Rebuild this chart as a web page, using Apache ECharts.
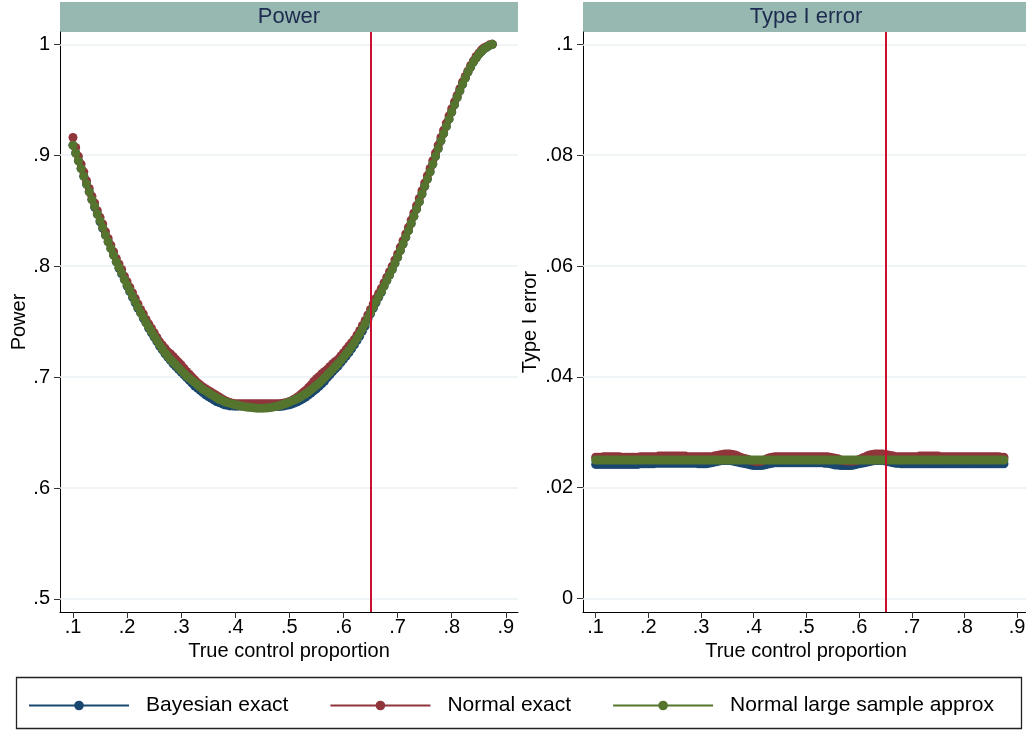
<!DOCTYPE html>
<html><head><meta charset="utf-8">
<script src="https://cdn.jsdelivr.net/npm/echarts@6/dist/echarts.min.js"></script>
<style>html,body{margin:0;padding:0;background:#fff}#c{width:1026px;height:731px}</style>
</head><body><div id="c"></div>
<script>
// ---------------- DATA ----------------
const xs = [
0.100,0.105,0.110,0.115,0.120,0.125,0.130,0.135,0.140,0.145,0.150,0.155,0.160,0.165,0.170,0.175,0.180,0.185,0.190,0.195,
0.200,0.205,0.210,0.215,0.220,0.225,0.230,0.235,0.240,0.245,0.250,0.255,0.260,0.265,0.270,0.275,0.280,0.285,0.290,0.295,
0.300,0.305,0.310,0.315,0.320,0.325,0.330,0.335,0.340,0.345,0.350,0.355,0.360,0.365,0.370,0.375,0.380,0.385,0.390,0.395,
0.400,0.405,0.410,0.415,0.420,0.425,0.430,0.435,0.440,0.445,0.450,0.455,0.460,0.465,0.470,0.475,0.480,0.485,0.490,0.495,
0.500,0.505,0.510,0.515,0.520,0.525,0.530,0.535,0.540,0.545,0.550,0.555,0.560,0.565,0.570,0.575,0.580,0.585,0.590,0.595,
0.600,0.605,0.610,0.615,0.620,0.625,0.630,0.635,0.640,0.645,0.650,0.655,0.660,0.665,0.670,0.675,0.680,0.685,0.690,0.695,
0.700,0.705,0.710,0.715,0.720,0.725,0.730,0.735,0.740,0.745,0.750,0.755,0.760,0.765,0.770,0.775,0.780,0.785,0.790,0.795,
0.800,0.805,0.810,0.815,0.820,0.825,0.830,0.835,0.840,0.845,0.850,0.855,0.860,0.865,0.870,0.875];

const seriesNames = ['Bayesian exact','Normal exact','Normal large sample approx'];

const powerBayes = [
0.909,0.902,0.895,0.888,0.881,0.874,0.867,0.860,0.853,0.847,0.840,0.834,0.828,0.822,0.816,0.810,0.804,0.798,0.793,0.788,
0.782,0.777,0.772,0.767,0.762,0.758,0.753,0.749,0.744,0.740,0.736,0.732,0.728,0.7245,0.721,0.718,0.715,0.712,0.7095,0.707,
0.7045,0.702,0.6995,0.697,0.6945,0.692,0.690,0.688,0.686,0.684,0.6825,0.681,0.6795,0.678,0.677,0.676,0.675,0.6745,0.674,0.674,
0.6738,0.6738,0.674,0.674,0.6742,0.6744,0.6745,0.6745,0.6745,0.6745,0.6745,0.6744,0.6742,0.674,0.6738,0.6736,0.6735,0.6737,0.674,0.6745,
0.675,0.6758,0.6767,0.6778,0.679,0.6805,0.682,0.6837,0.6855,0.6875,0.6895,0.6917,0.694,0.6965,0.6995,0.702,0.705,0.7075,0.710,0.713,
0.716,0.719,0.722,0.7255,0.729,0.733,0.737,0.7415,0.746,0.752,0.757,0.762,0.767,0.772,0.7765,0.782,0.787,0.792,0.797,0.8025,
0.808,0.814,0.820,0.826,0.832,0.8385,0.845,0.8515,0.858,0.865,0.872,0.8785,0.885,0.892,0.899,0.906,0.913,0.9195,0.926,0.9325,
0.939,0.9455,0.952,0.958,0.964,0.9695,0.975,0.9795,0.984,0.9875,0.991,0.9935,0.996,0.9975,0.999,1.000];

const powerNormal = [
0.916,0.907,0.899,0.892,0.885,0.877,0.870,0.863,0.857,0.850,0.844,0.838,0.831,0.825,0.819,0.813,0.807,0.802,0.797,0.791,
0.786,0.781,0.776,0.771,0.766,0.761,0.757,0.752,0.748,0.744,0.740,0.736,0.732,0.729,0.726,0.723,0.721,0.7185,0.716,0.7135,
0.711,0.708,0.705,0.7025,0.700,0.6975,0.695,0.693,0.691,0.6895,0.688,0.6865,0.685,0.6835,0.682,0.6805,0.679,0.678,0.677,0.6765,
0.676,0.676,0.676,0.676,0.676,0.676,0.676,0.676,0.676,0.676,0.676,0.676,0.676,0.676,0.676,0.676,0.676,0.6762,0.6766,0.677,
0.678,0.679,0.6805,0.682,0.684,0.686,0.688,0.6905,0.693,0.696,0.6985,0.7005,0.703,0.705,0.707,0.7095,0.712,0.714,0.716,0.719,
0.722,0.725,0.728,0.731,0.734,0.738,0.742,0.7465,0.751,0.756,0.761,0.766,0.771,0.7755,0.780,0.785,0.790,0.795,0.800,0.8055,
0.811,0.817,0.823,0.829,0.835,0.8415,0.848,0.8545,0.861,0.868,0.875,0.8815,0.888,0.895,0.902,0.909,0.916,0.9225,0.929,0.9355,
0.942,0.948,0.954,0.960,0.966,0.971,0.976,0.981,0.985,0.989,0.992,0.995,0.997,0.998,0.9995,1.000];

const powerLarge = [
0.909,0.902,0.895,0.888,0.881,0.874,0.867,0.860,0.854,0.847,0.841,0.835,0.828,0.822,0.816,0.810,0.804,0.799,0.794,0.788,
0.783,0.778,0.773,0.768,0.763,0.758,0.754,0.749,0.745,0.741,0.737,0.733,0.729,0.7255,0.722,0.719,0.716,0.7135,0.711,0.7085,
0.706,0.7035,0.701,0.699,0.697,0.695,0.693,0.691,0.689,0.6875,0.686,0.6845,0.683,0.6815,0.680,0.679,0.678,0.677,0.6765,0.6757,
0.675,0.6745,0.674,0.6735,0.673,0.6727,0.6725,0.6722,0.672,0.672,0.672,0.6721,0.6722,0.6726,0.673,0.6735,0.674,0.6748,0.6757,0.6766,
0.6775,0.6785,0.6795,0.6807,0.682,0.6835,0.685,0.6867,0.6885,0.6905,0.6925,0.6947,0.697,0.6995,0.702,0.7045,0.707,0.7095,0.712,0.715,
0.718,0.721,0.724,0.7275,0.731,0.735,0.739,0.7435,0.748,0.753,0.758,0.763,0.768,0.7725,0.777,0.782,0.787,0.792,0.797,0.8025,
0.808,0.814,0.820,0.826,0.832,0.8385,0.845,0.8515,0.858,0.865,0.872,0.8785,0.885,0.892,0.899,0.906,0.913,0.9195,0.926,0.9325,
0.939,0.9455,0.952,0.958,0.964,0.9695,0.975,0.9795,0.984,0.9875,0.991,0.9935,0.996,0.9975,0.999,1.000];

const t1Bayes = [
0.0242,0.0242,0.0242,0.0242,0.0242,0.0242,0.0242,0.0242,0.0242,0.0242,0.0242,0.0242,0.0242,0.0242,0.0242,0.0242,0.0242,0.0243,0.0243,0.0243,
0.0243,0.0243,0.0243,0.0244,0.0244,0.0244,0.0244,0.0244,0.0244,0.0244,0.0244,0.0244,0.0244,0.0244,0.0244,0.0244,0.0244,0.0244,0.0244,0.0243,
0.0243,0.0243,0.0243,0.0244,0.0245,0.0246,0.0247,0.0248,0.0249,0.0249,0.0249,0.0249,0.0248,0.0247,0.0246,0.0245,0.0244,0.0243,0.0242,0.0241,
0.0240,0.0240,0.0240,0.0240,0.0241,0.0242,0.0243,0.0244,0.0245,0.0245,0.0245,0.0245,0.0245,0.0245,0.0245,0.0245,0.0245,0.0245,0.0245,0.0245,
0.0245,0.0245,0.0245,0.0245,0.0245,0.0245,0.0245,0.0244,0.0244,0.0243,0.0242,0.0241,0.0241,0.0240,0.0240,0.0240,0.0240,0.0240,0.0241,0.0242,
0.0243,0.0244,0.0245,0.0246,0.0247,0.0248,0.0249,0.0249,0.0249,0.0249,0.0248,0.0247,0.0246,0.0245,0.0244,0.0244,0.0243,0.0243,0.0243,0.0243,
0.0243,0.0243,0.0243,0.0243,0.0243,0.0243,0.0243,0.0243,0.0243,0.0243,0.0243,0.0243,0.0243,0.0243,0.0243,0.0243,0.0243,0.0243,0.0243,0.0243,
0.0243,0.0243,0.0243,0.0243,0.0243,0.0243,0.0243,0.0243,0.0243,0.0243,0.0243,0.0243,0.0243,0.0243,0.0243,0.0243];

const t1Normal = [
0.0255,0.0255,0.0255,0.0256,0.0256,0.0256,0.0256,0.0256,0.0256,0.0256,0.0255,0.0255,0.0255,0.0255,0.0255,0.0255,0.0255,0.0256,0.0256,0.0256,
0.0256,0.0256,0.0256,0.0256,0.0257,0.0257,0.0257,0.0257,0.0257,0.0257,0.0257,0.0257,0.0257,0.0257,0.0257,0.0256,0.0256,0.0256,0.0256,0.0256,
0.0256,0.0256,0.0256,0.0256,0.0256,0.0257,0.0258,0.0259,0.0260,0.0261,0.0261,0.0261,0.0260,0.0259,0.0257,0.0255,0.0253,0.0252,0.0251,0.0249,
0.0248,0.0247,0.0247,0.0248,0.0250,0.0252,0.0254,0.0255,0.0256,0.0256,0.0256,0.0256,0.0256,0.0256,0.0256,0.0256,0.0256,0.0256,0.0256,0.0256,
0.0256,0.0256,0.0256,0.0256,0.0256,0.0256,0.0256,0.0256,0.0256,0.0255,0.0254,0.0253,0.0252,0.0250,0.0249,0.0248,0.0248,0.0248,0.0248,0.0249,
0.0251,0.0253,0.0255,0.0257,0.0259,0.0260,0.0261,0.0261,0.0261,0.0261,0.0260,0.0259,0.0258,0.0257,0.0256,0.0256,0.0256,0.0256,0.0256,0.0256,
0.0256,0.0256,0.0256,0.0257,0.0257,0.0257,0.0257,0.0257,0.0257,0.0257,0.0257,0.0256,0.0256,0.0256,0.0256,0.0256,0.0256,0.0256,0.0256,0.0256,
0.0256,0.0256,0.0256,0.0256,0.0256,0.0256,0.0256,0.0256,0.0256,0.0256,0.0256,0.0256,0.0256,0.0256,0.0255,0.0255];

const t1Large = [
0.025,0.025,0.025,0.025,0.025,0.025,0.025,0.025,0.025,0.025,0.025,0.025,0.025,0.025,0.025,0.025,0.025,0.025,0.025,0.025,
0.025,0.025,0.025,0.025,0.025,0.025,0.025,0.025,0.025,0.025,0.025,0.025,0.025,0.025,0.025,0.025,0.025,0.025,0.025,0.025,
0.025,0.025,0.025,0.025,0.025,0.025,0.025,0.025,0.025,0.025,0.025,0.025,0.025,0.025,0.025,0.025,0.025,0.025,0.025,0.025,
0.025,0.025,0.025,0.025,0.025,0.025,0.025,0.025,0.025,0.025,0.025,0.025,0.025,0.025,0.025,0.025,0.025,0.025,0.025,0.025,
0.025,0.025,0.025,0.025,0.025,0.025,0.025,0.025,0.025,0.025,0.025,0.025,0.025,0.025,0.025,0.025,0.025,0.025,0.025,0.025,
0.025,0.025,0.025,0.025,0.025,0.025,0.025,0.025,0.025,0.025,0.025,0.025,0.025,0.025,0.025,0.025,0.025,0.025,0.025,0.025,
0.025,0.025,0.025,0.025,0.025,0.025,0.025,0.025,0.025,0.025,0.025,0.025,0.025,0.025,0.025,0.025,0.025,0.025,0.025,0.025,
0.025,0.025,0.025,0.025,0.025,0.025,0.025,0.025,0.025,0.025,0.025,0.025,0.025,0.025,0.025,0.025];

const xTicks = [0.1,0.2,0.3,0.4,0.5,0.6,0.7,0.8,0.9];
const xTickLabels = ['.1','.2','.3','.4','.5','.6','.7','.8','.9'];
const powerTicks = [0.5,0.6,0.7,0.8,0.9,1.0];
const powerTickLabels = ['.5','.6','.7','.8','.9','1'];
const t1Ticks = [0,0.02,0.04,0.06,0.08,0.1];
const t1TickLabels = ['0','.02','.04','.06','.08','.1'];
const refLineX = 0.65;
const panelTitles = ['Power','Type I error'];
const yTitles = ['Power','Type I error'];
const xTitle = 'True control proportion';

// ---------------- STYLE / BUILD ----------------
const FONT = '"Liberation Sans", Arial, Helvetica, sans-serif';
const colors = ['#1A476F','#90353B','#55752F'];
const panels = [
  {left:60, width:458, ymin:0.4882, ymax:1.0111, ticks:powerTicks, labels:powerTickLabels, series:[powerBayes,powerNormal,powerLarge], nameGap:31},
  {left:583, width:446, ymin:-0.00243, ymax:0.10222, ticks:t1Ticks, labels:t1TickLabels, series:[t1Bayes,t1Normal,t1Large], nameGap:43}
];
const TOP = 32, HEIGHT = 580;
function fmt(ticks, labels){ return v => { const i = ticks.findIndex(t => Math.abs(t - v) < 1e-9); return i >= 0 ? labels[i] : ''; }; }

const grids = [], xAxes = [], yAxes = [], series = [], graphics = [];
panels.forEach((p, gi) => {
  grids.push({left:p.left, top:TOP, width:p.width, height:HEIGHT, containLabel:false, outerBoundsMode:'none'});
  xAxes.push({
    type:'value', gridIndex:gi, min:0.076, max:0.9225,
    axisLine:{show:true, onZero:false, lineStyle:{color:'#000', width:1}},
    axisTick:{show:true, customValues:xTicks, length:6, lineStyle:{color:'#333', width:1}},
    axisLabel:{show:true, customValues:xTicks, formatter:fmt(xTicks, xTickLabels), fontSize:20, color:'#000', margin:5, fontFamily:FONT},
    splitLine:{show:false},
    name:xTitle, nameLocation:'middle', nameGap:29,
    nameTextStyle:{fontSize:20, color:'#000', fontFamily:FONT}
  });
  yAxes.push({
    type:'value', gridIndex:gi, min:p.ymin, max:p.ymax,
    axisLine:{show:true, onZero:false, lineStyle:{color:'#000', width:1}},
    axisTick:{show:true, customValues:p.ticks, length:6, lineStyle:{color:'#333', width:1}},
    axisLabel:{show:true, customValues:p.ticks, formatter:fmt(p.ticks, p.labels), fontSize:20, color:'#000', margin:10, fontFamily:FONT},
    splitLine:{show:false},
    name:yTitles[gi], nameLocation:'middle', nameGap:p.nameGap, nameRotate:90,
    nameTextStyle:{fontSize:20, color:'#000', fontFamily:FONT}
  });
  // horizontal grid lines at tick values (kept beneath the data)
  series.push({
    type:'line', xAxisIndex:gi, yAxisIndex:gi, data:[], z:1, silent:true,
    markLine:{silent:true, z:1, symbol:['none','none'], label:{show:false}, animation:false,
      lineStyle:{color:'#EAF1F3', width:1.5, type:'solid'},
      data:p.ticks.map(v => ({yAxis:v}))}
  });
  p.series.forEach((vals, si) => {
    series.push({
      name:seriesNames[si], type:'line', xAxisIndex:gi, yAxisIndex:gi, z:3+si,
      data:xs.map((x, k) => [x, vals[k]]),
      symbol:'circle', symbolSize:9, showSymbol:true,
      lineStyle:{color:colors[si], width:2},
      itemStyle:{color:colors[si]},
      emphasis:{disabled:true}
    });
  });
  // vertical reference line
  series.push({
    type:'line', xAxisIndex:gi, yAxisIndex:gi, data:[], z:10, silent:true,
    markLine:{silent:true, z:10, symbol:['none','none'], label:{show:false}, animation:false,
      lineStyle:{color:'#C8102E', width:2, type:'solid'},
      data:[{xAxis:refLineX}]}
  });
  // header strip
  graphics.push({type:'rect', shape:{x:p.left, y:2, width:p.width, height:30}, style:{fill:'#97B8B0'}, z:0});
  graphics.push({type:'text', x:p.left + p.width/2, y:17, style:{text:panelTitles[gi], fill:'#1C2B4F', font:'22px ' + FONT, textAlign:'center', textVerticalAlign:'middle'}, z:1});
});
// legend frame
graphics.push({type:'rect', shape:{x:16.5, y:677.5, width:1005, height:51}, style:{fill:'none', stroke:'#222', lineWidth:1.3}, z:0});

const chart = echarts.init(document.getElementById('c'), null, {renderer:'canvas'});
chart.setOption({
  animation:false,
  backgroundColor:'#fff',
  textStyle:{fontFamily:FONT},
  grid:grids, xAxis:xAxes, yAxis:yAxes, series:series,
  graphic:graphics,
  legend:{
    data:seriesNames, left:23, top:690, orient:'horizontal',
    itemWidth:100, itemHeight:12, itemGap:41,
    textStyle:{fontSize:21, color:'#000', fontFamily:FONT, padding:[0,0,0,12]},
    selectedMode:false
  }
});
</script></body></html>
